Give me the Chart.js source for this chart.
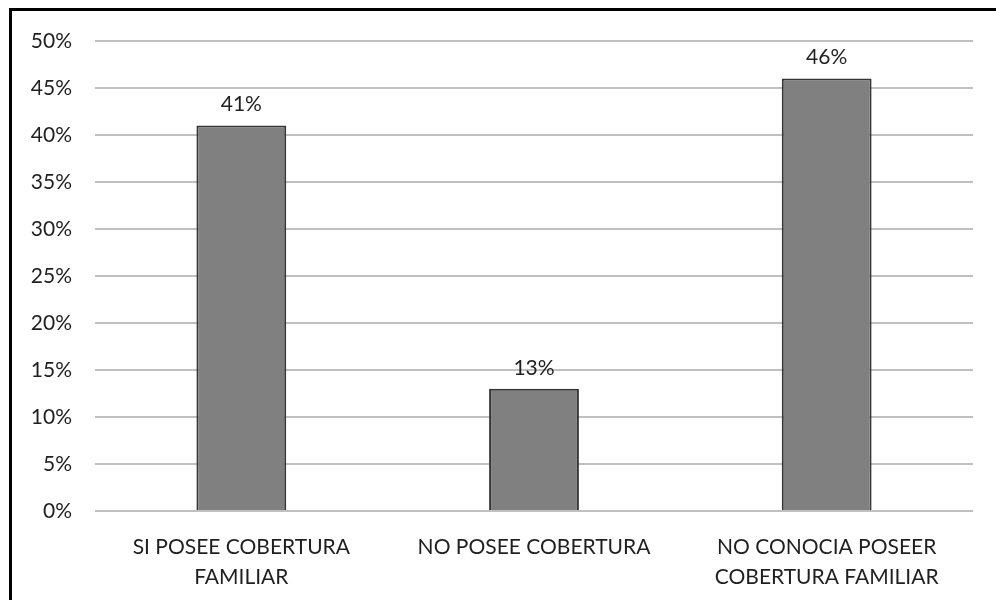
<!DOCTYPE html>
<html>
<head>
<meta charset="utf-8">
<script src="https://cdn.jsdelivr.net/npm/chart.js@4/dist/chart.umd.min.js"></script>
<style>
    html, body { margin: 0; padding: 0; background: #fff; }
    #wrap { position: relative; width: 996px; height: 600px; overflow: hidden; }
    #frame {
        position: absolute; left: 9px; top: 8px; right: -10px; bottom: -10px;
        border-top: 3px solid #000; border-left: 3px solid #000;
        pointer-events: none;
    }
</style>
</head>
<body>
<div id="wrap">
    <canvas id="chart" width="996" height="600"></canvas>
    <div id="frame"></div>
</div>
<script>
// Chart data
const categories = [
    ["SI POSEE COBERTURA", "FAMILIAR"],
    ["NO POSEE COBERTURA"],
    ["NO CONOCIA POSEER", "COBERTURA FAMILIAR"]
];
const values = [41, 13, 46];
const yTicks = [0, 5, 10, 15, 20, 25, 30, 35, 40, 45, 50];

const FONT = "Lato, 'Open Sans', sans-serif";
const TEXT = "#1f1f1f";

// value labels over each bar
const barLabels = {
    id: "barLabels",
    afterDatasetsDraw(chart) {
        const ctx = chart.ctx;
        const meta = chart.getDatasetMeta(0);
        ctx.save();
        ctx.font = "21px " + FONT;
        ctx.fillStyle = TEXT;
        ctx.textAlign = "center";
        ctx.textBaseline = "middle";
        meta.data.forEach((bar, i) => {
            ctx.fillText(values[i] + "%", bar.x, bar.y - 21);
        });
        ctx.restore();
    }
};

new Chart(document.getElementById("chart"), {
    type: "bar",
    data: {
        labels: categories,
        datasets: [{
            data: values,
            backgroundColor: "#808080",
            borderColor: "#363636",
            borderWidth: 2,
            barPercentage: 0.307,
            categoryPercentage: 1
        }]
    },
    options: {
        responsive: false,
        animation: false,
        layout: { padding: { left: 0, right: 23, top: 41, bottom: 0 } },
        plugins: {
            legend: { display: false },
            tooltip: { enabled: false }
        },
        scales: {
            x: {
                grid: { display: false },
                border: { display: false },
                ticks: {
                    color: TEXT,
                    font: { family: FONT, size: 21, lineHeight: 1.4 },
                    padding: 14,
                    maxRotation: 0,
                    autoSkip: false
                },
                afterFit(scale) { scale.height = 89; }
            },
            y: {
                min: 0,
                max: 50,
                afterBuildTicks(scale) {
                    scale.ticks = yTicks.map((v) => ({ value: v }));
                },
                grid: { color: "#c0c0c0", lineWidth: 2, drawTicks: false },
                border: { display: false },
                ticks: {
                    color: TEXT,
                    font: { family: FONT, size: 21 },
                    padding: 23,
                    callback: (v) => v + "%"
                },
                afterFit(scale) { scale.width = 95; }
            }
        }
    },
    plugins: [barLabels]
});
</script>
</body>
</html>
